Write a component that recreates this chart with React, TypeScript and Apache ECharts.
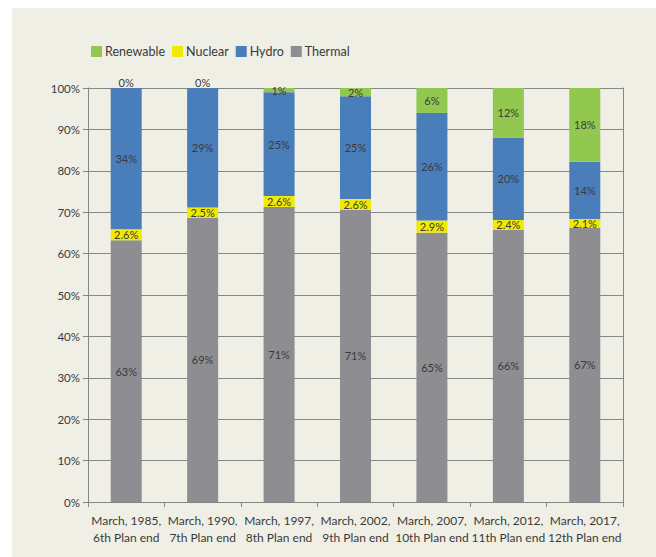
import React, { useEffect, useRef } from "react";
import * as echarts from "echarts";

const categories = [
  "March, 1985,\n6th Plan end",
  "March, 1990,\n7th Plan end",
  "March, 1997,\n8th Plan end",
  "March, 2002,\n9th Plan end",
  "March, 2007,\n10th Plan end",
  "March, 2012,\n11th Plan end",
  "March, 2017,\n12th Plan end",
];
const thermal = [63, 69, 71, 71, 65, 66, 67];
const nuclear = [2.6, 2.5, 2.6, 2.6, 2.9, 2.4, 2.1];
const hydro = [34, 29, 25, 25, 26, 20, 14];
const renewable = [0, 0, 1, 2, 6, 12, 18];
const yTicks = [0, 10, 20, 30, 40, 50, 60, 70, 80, 90, 100];

const FONT = "Lato, 'Open Sans', sans-serif";
const TEXT = "#3a3a3a";

export default function App() {
  const ref = useRef<HTMLDivElement>(null);
  useEffect(() => {
    document.body.style.margin = "0";
    if (!ref.current) return;
    const chart = echarts.init(ref.current, undefined, { renderer: "svg" });
    const totals = categories.map(
      (_, i) => thermal[i] + nuclear[i] + hydro[i] + renewable[i]
    );
    const mk = (
      name: string,
      raw: number[],
      color: string,
      decimals: number
    ) => ({
      name,
      type: "bar",
      stack: "total",
      barWidth: 31,
      itemStyle: { color },
      data: raw.map((v, i) => {
        const item: any = { value: (v / totals[i]) * 100, raw: v };
        if (v === 0) {
          item.label = { position: "top", distance: 0 };
        }
        return item;
      }),
      label: {
        show: true,
        position: "inside",
        color: TEXT,
        fontFamily: FONT,
        fontSize: 11,
        formatter: (p: any) => `${p.data.raw.toFixed(decimals)}%`,
      },
    });
    chart.setOption({
      animation: false,
      backgroundColor: "#ffffff",
      graphic: [
        {
          type: "rect",
          z: -10,
          silent: true,
          shape: { x: 12, y: 8, width: 644, height: 549 },
          style: { fill: "#f0efe6" },
        },
      ],
      legend: {
        left: 86,
        top: 40,
        itemWidth: 11,
        itemHeight: 11,
        itemGap: 7,
        icon: "rect",
        data: ["Renewable", "Nuclear", "Hydro", "Thermal"],
        textStyle: { color: TEXT, fontFamily: FONT, fontSize: 12.5, padding: [0, 0, 0, -2] },
      },
      grid: { left: 88, right: 33, top: 88, bottom: 55 },
      xAxis: {
        type: "category",
        data: categories,
        axisLine: { lineStyle: { color: "#868686" } },
        axisTick: { show: true, length: 5, lineStyle: { color: "#868686" } },
        axisLabel: {
          color: TEXT,
          fontFamily: FONT,
          fontSize: 12,
          lineHeight: 17,
          margin: 10,
          interval: 0,
        },
      },
      yAxis: [
        {
          type: "value",
          min: yTicks[0],
          max: yTicks[yTicks.length - 1],
          interval: 10,
          axisLine: { show: true, lineStyle: { color: "#868686" } },
          axisTick: { show: true, length: 5, lineStyle: { color: "#868686" } },
          splitLine: { lineStyle: { color: "#868686", width: 1 } },
          axisLabel: {
            color: TEXT,
            fontFamily: FONT,
            fontSize: 11.5,
            margin: 8,
            formatter: "{value}%",
          },
        },
        {
          type: "value",
          position: "right",
          min: yTicks[0],
          max: yTicks[yTicks.length - 1],
          interval: 10,
          axisLine: { show: true, lineStyle: { color: "#868686" } },
          axisTick: { show: false },
          splitLine: { show: false },
          axisLabel: { show: false },
        },
      ],
      series: [
        mk("Thermal", thermal, "#8e8e92", 0),
        mk("Nuclear", nuclear, "#f0ea00", 1),
        mk("Hydro", hydro, "#4a7ebb", 0),
        mk("Renewable", renewable, "#92c84f", 0),
      ],
    });
    return () => chart.dispose();
  }, []);
  return <div ref={ref} style={{ width: 656, height: 557 }} />;
}
